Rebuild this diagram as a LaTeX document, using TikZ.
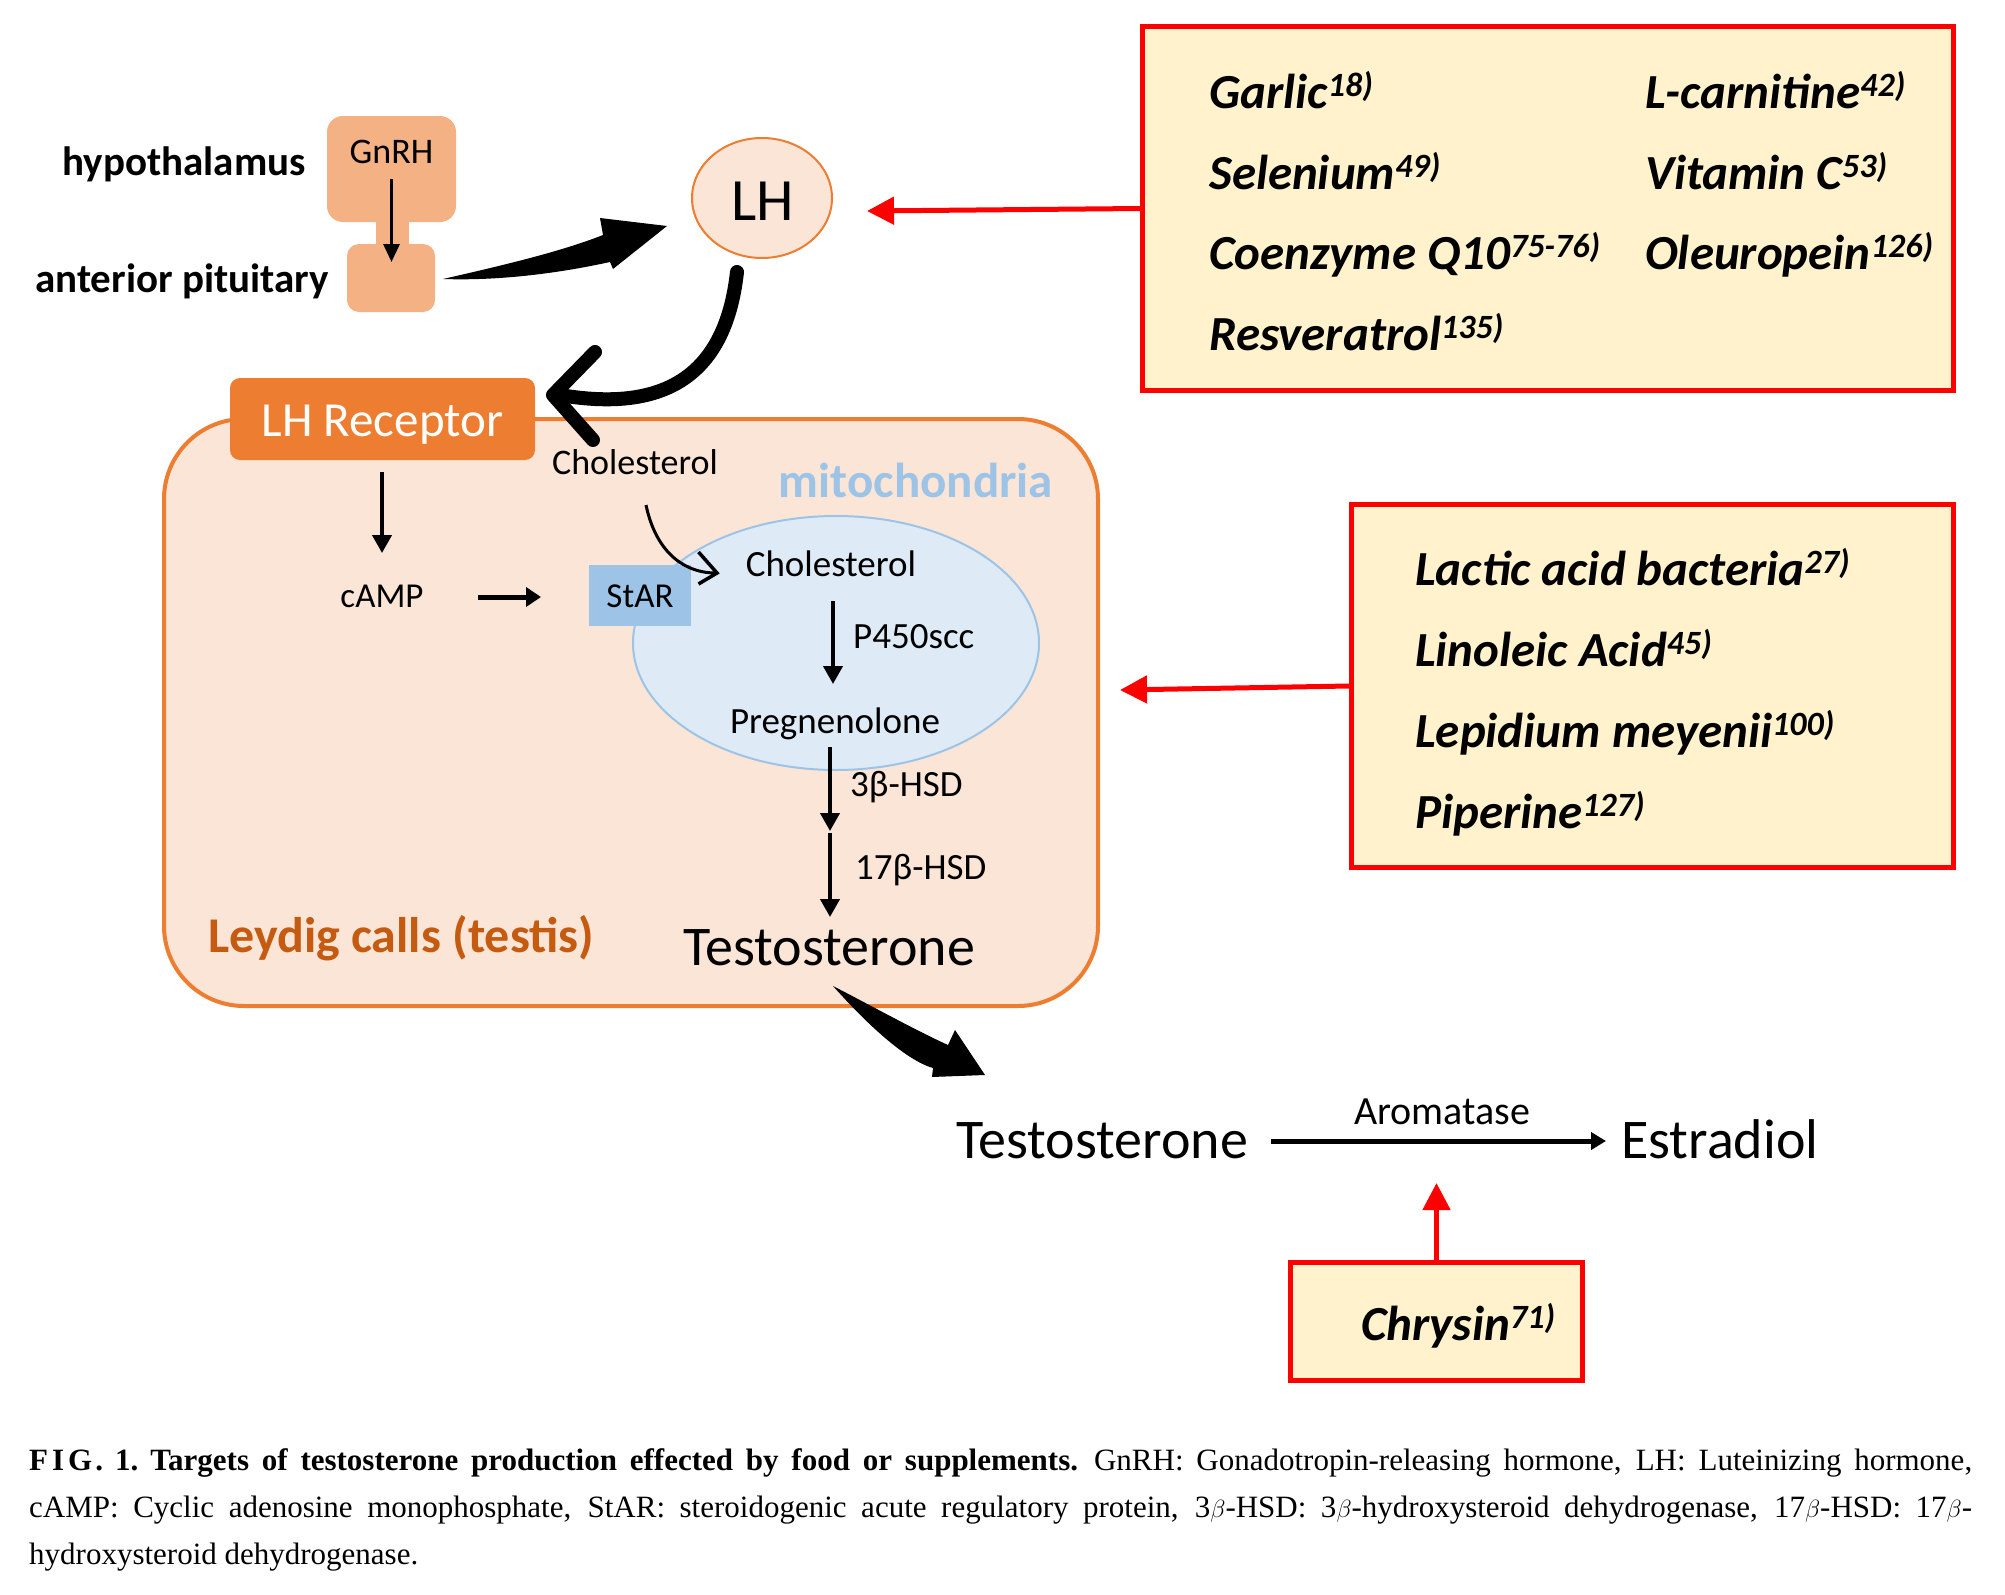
\documentclass[tikz,border=0pt]{standalone}
\usepackage{fontspec}
\setmainfont{Liberation Serif}
\newfontfamily\calfont{Carlito}
\usetikzlibrary{arrows.meta,shapes.geometric}
\definecolor{orgfill}{HTML}{F4B183}
\definecolor{orgdark}{HTML}{ED7D31}
\definecolor{peach}{HTML}{FBE5D6}
\definecolor{bluefill}{HTML}{DEEBF7}
\definecolor{bluemid}{HTML}{9DC3E6}
\definecolor{yell}{HTML}{FFF2CC}
\definecolor{leyd}{HTML}{C55A11}
\newcommand\fs[1]{\fontsize{#1}{#1}\selectfont}
\newcommand\refsup[1]{\raisebox{12pt}{\fs{34}#1}}
\begin{document}
\begin{tikzpicture}[x=1pt,y=-1pt,
  txt/.style={inner sep=0pt, font=\calfont\fs{37}},
  big/.style={inner sep=0pt, font=\calfont\fs{56}},
  boldlbl/.style={inner sep=0pt, font=\calfont\bfseries\fs{41}},
  supp/.style={inner sep=0pt, anchor=base west, font=\calfont\bfseries\itshape\fs{49}},
  suppbox/.style={draw=red, line width=5pt, fill=yell, inner sep=0pt},
  blkarrow/.style={line width=4pt, -{Triangle[length=18pt,width=19pt]}},
  redarrow/.style={draw=red, line width=5pt, -{Triangle[length=27pt,width=27pt]}},
  fatline/.style={line width=14pt, line cap=round, line join=round}
]
\path[use as bounding box, fill=white] (0,0) rectangle (2005,1595);

% ---------- Leydig cell ----------
\node[draw=orgdark, line width=4pt, fill=peach, rounded corners=80pt,
      minimum width=934pt, minimum height=587pt, inner sep=0pt] (leydig) at (631,712.5) {};
\node[ellipse, draw=bluemid, line width=2pt, fill=bluefill,
      minimum width=406pt, minimum height=254pt, inner sep=0pt] (mito) at (836,643) {};
\node[fill=bluemid, minimum width=102pt, minimum height=61pt, inner sep=0pt] (star) at (640,595.5) {};
\node[txt, anchor=base, font=\calfont\fs{35}] (startext) at (640,607) {StAR};
\node[fill=orgdark, rounded corners=10pt, minimum width=305pt, minimum height=82pt, inner sep=0pt] (lhr) at (382.5,419) {};
\node[inner sep=0pt, anchor=base, text=white, font=\calfont\fs{49}] (lhrtext) at (382.5,436) {LH Receptor};

% ---------- hypothalamus / pituitary ----------
\node[fill=orgfill, minimum width=33pt, minimum height=45pt, inner sep=0pt] (neck) at (392.5,232) {};
\node[fill=orgfill, rounded corners=16pt, minimum width=129pt, minimum height=106pt, inner sep=0pt] (gnrh) at (391.5,169) {};
\node[fill=orgfill, rounded corners=12pt, minimum width=88pt, minimum height=68pt, inner sep=0pt] (pit) at (391,278) {};
\node[txt, anchor=base, font=\calfont\fs{36}] (gnrhtext) at (391.5,163) {GnRH};
\node[boldlbl, anchor=base] (hyp) at (184,175) {hypothalamus};
\node[boldlbl, anchor=base] (ant) at (182,292) {anterior pituitary};
\coordinate (gA) at (391.5,179);
\coordinate (gB) at (391.5,262);
\draw[line width=3pt, -{Triangle[length=18pt,width=16pt]}] (gA) -- (gB);

% ---------- LH ----------
\node[ellipse, draw=orgdark, line width=2pt, fill=peach, minimum width=140pt, minimum height=120pt, inner sep=0pt] (lh) at (762,198) {};
\node[inner sep=0pt, anchor=base, font=\calfont\fs{60}] (lhtext) at (763,220) {LH};

% big arrow pituitary -> LH
\fill (443,279) .. controls (500,266) and (560,252) .. (603,235) -- (600,218) -- (667,226)
      -- (613,269) -- (610,262) .. controls (560,273) and (500,281) .. cycle;

% curved arrow LH -> LH receptor
\coordinate (lhS) at (737,272);
\coordinate (lhE) at (560,395);
\draw[fatline] (lhS) .. controls (725,380) and (660,412) .. (lhE);
\draw[fatline] (595,352) -- (553,395) -- (593,440);

% ---------- inside the cell ----------
\node[txt, anchor=base, font=\calfont\fs{36}] (chol1) at (635,474) {Cholesterol};
\node[inner sep=0pt, anchor=base, font=\calfont\bfseries\fs{49}, text=bluemid] (mitotext) at (916,497) {mitochondria};
\draw[line width=3pt] (646,505) .. controls (655,548) and (680,572) .. (714,573);
\draw[line width=3.5pt, line join=miter] (698.5,552) -- (717,573) -- (698.5,584);

\node[txt, anchor=base, font=\calfont\fs{35}] (camp) at (382,607) {cAMP};
\draw[blkarrow] (382,472) -- (382,553);
\draw[line width=5pt, -{Triangle[length=15pt,width=19pt]}] (478,597) -- (541,597);

\node[txt, anchor=base] (chol2) at (831,576) {Cholesterol};
\draw[blkarrow] (833,601) -- (833,684);
\node[txt, anchor=base west] (p450) at (853,648) {P450scc};
\node[txt, anchor=base] (preg) at (835,733) {Pregnenolone};
\draw[blkarrow] (830,747) -- (830,831);
\node[txt, anchor=base west] (hsd3) at (850,796) {3β-HSD};
\draw[blkarrow] (830,833) -- (830,917);
\node[txt, anchor=base west] (hsd17) at (855,879) {17β-HSD};
\node[big, anchor=base] (testo1) at (829,965) {Testosterone};
\node[inner sep=0pt, anchor=base west, font=\calfont\bfseries\fs{50}, text=leyd] (leydtext) at (208,952) {Leydig calls (testis)};

% big arrow testosterone -> testosterone
\fill (833,986) .. controls (870,1005) and (915,1030) .. (948,1045) -- (955,1030) -- (985,1075)
      -- (932,1077) -- (933,1068) .. controls (905,1060) and (865,1022) .. cycle;

% ---------- aromatase ----------
\node[big, anchor=base west] (testo2) at (956,1158) {Testosterone};
\node[big, anchor=base west] (estr) at (1621,1158) {Estradiol};
\node[txt, anchor=base, font=\calfont\fs{40}] (arom) at (1442,1124) {Aromatase};
\draw[line width=5pt, -{Triangle[length=15pt,width=17pt]}] (1271,1141) -- (1606,1141);

% ---------- supplement boxes ----------
\node[suppbox, minimum width=811pt, minimum height=364pt] (supA) at (1548,208.5) {};
\node[supp] at (1209,108) {Garlic\refsup{18)}};
\node[supp] at (1209,189) {Selenium\refsup{49)}};
\node[supp] at (1209,269) {Coenzyme Q10\refsup{75-76)}};
\node[supp] at (1209,350) {Resveratrol\refsup{135)}};
\node[supp] at (1645,108) {L-carnitine\refsup{42)}};
\node[supp] at (1645,189) {Vitamin C\refsup{53)}};
\node[supp] at (1645,269) {Oleuropein\refsup{126)}};
\coordinate (lhT) at (867,211);
\draw[redarrow] (supA.west) -- (lhT);

\node[suppbox, minimum width=602pt, minimum height=363pt] (supB) at (1652.5,686) {};
\node[supp] at (1415,585) {Lactic acid bacteria\refsup{27)}};
\node[supp] at (1415,666) {Linoleic Acid\refsup{45)}};
\node[supp] at (1415,747) {Lepidium meyenii\refsup{100)}};
\node[supp] at (1415,828) {Piperine\refsup{127)}};
\coordinate (mitoT) at (1120,690);
\draw[redarrow] (supB.west) -- (mitoT);

\node[suppbox, minimum width=292pt, minimum height=118pt] (chr) at (1436.5,1321.5) {};
\node[supp] at (1361,1340) {Chrysin\refsup{71)}};
\coordinate (aromT) at (1436.5,1183);
\draw[redarrow] (chr.north) -- (aromT);

% ---------- caption ----------
\node[inner sep=0pt, anchor=base west] (caption) at (29,1470) {\parbox[t]{1943pt}{\fontsize{31}{47}\selectfont\hyphenpenalty=10000\emergencystretch=200pt
{\bfseries F\kern4pt I\kern4pt G\kern3pt.\kern12pt 1.\kern12pt Targets of testosterone production effected by food or supplements.}\kern16pt GnRH: Gonadotropin-releasing hormone, LH: Luteinizing hormone,\linebreak
cAMP: Cyclic adenosine monophosphate, StAR: steroidogenic acute regulatory protein, 3$\beta$-HSD: 3$\beta$-hydroxysteroid dehydrogenase, 17$\beta$-HSD: 17$\beta$-\linebreak
hydroxysteroid dehydrogenase.}};
\end{tikzpicture}
\end{document}
